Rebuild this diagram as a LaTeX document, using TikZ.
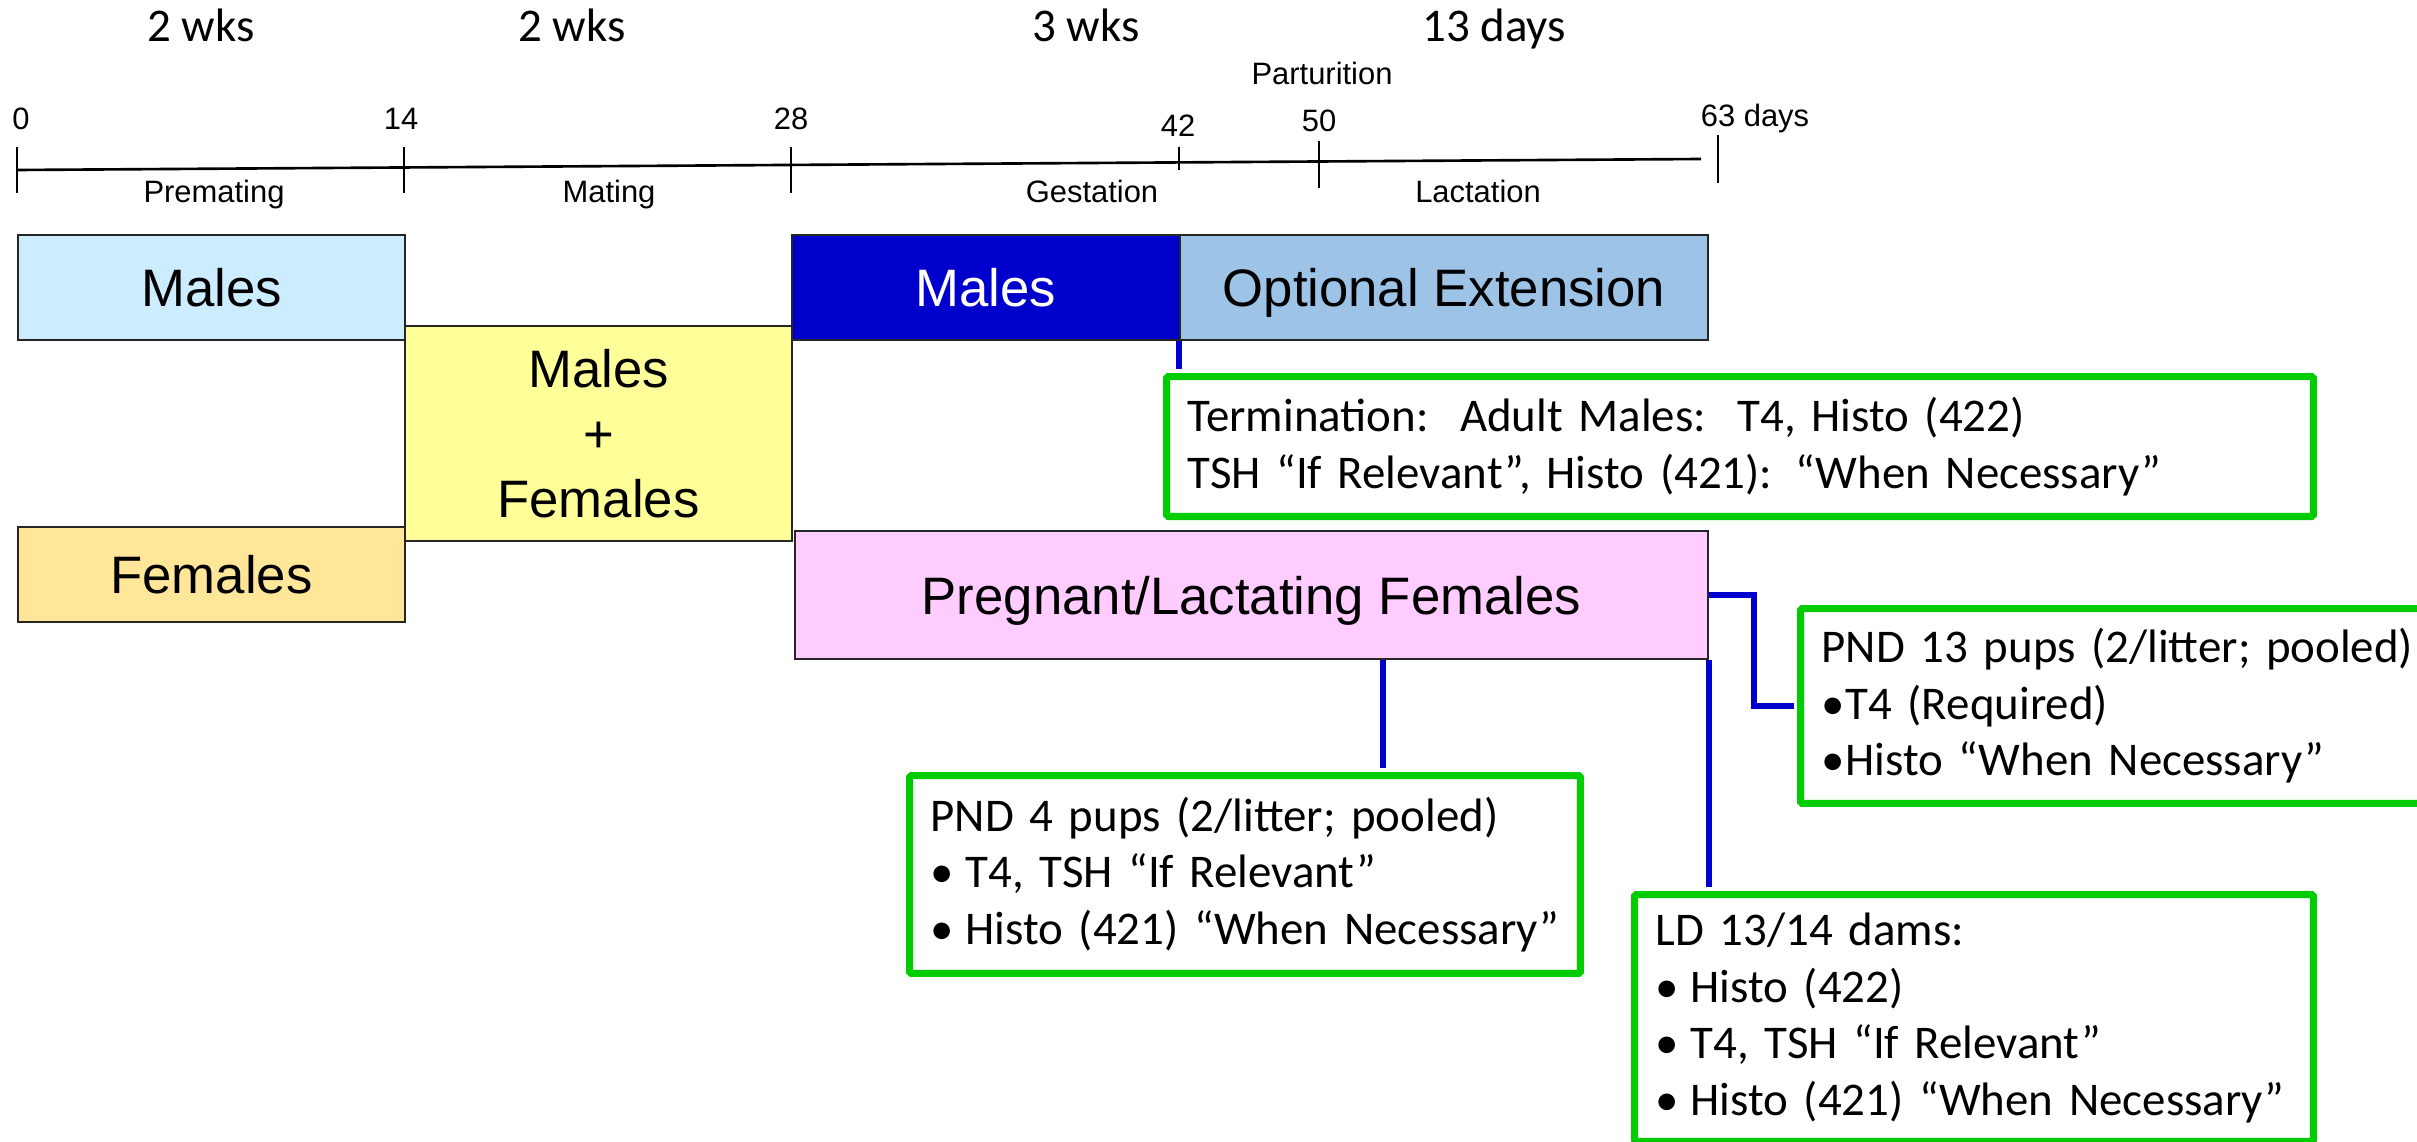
\documentclass[tikz,border=0pt]{standalone}
\usepackage{fontspec}
\setmainfont{Liberation Sans}
\newfontfamily\calibri{Carlito}
\definecolor{malesblue}{HTML}{CCECFF}
\definecolor{pairyellow}{HTML}{FFFF99}
\definecolor{femgold}{HTML}{FFE699}
\definecolor{malesdark}{HTML}{0000CC}
\definecolor{optblue}{HTML}{9DC3E6}
\definecolor{pregpink}{HTML}{FFCCFF}
\definecolor{resgreen}{HTML}{00CC00}
\definecolor{linkblue}{HTML}{0000CC}
\newcommand{\blt}[1][0.7cm]{\makebox[#1][l]{\textbullet}}
\tikzset{
  phase/.style={draw=black!85, line width=1.1pt, anchor=north west, inner sep=0pt,
    font=\fontsize{30}{37}\selectfont, text depth=0pt, align=center},
  result/.style={draw=resgreen, line width=4pt, fill=white, anchor=north west,
    align=left, inner xsep=0.42cm, inner ysep=0pt, rounded corners=1pt,
    font=\calibri\fontsize{26.7}{32.2}\selectfont},
  link/.style={draw=linkblue, line width=3.2pt, shorten >=2pt},
  axislab/.style={font=\fontsize{17.6}{21}\selectfont, anchor=base},
  weeks/.style={font=\calibri\fontsize{26.7}{32}\selectfont, anchor=base}
}
\begin{document}
\begin{tikzpicture}[x=0.02cm, y=-0.02cm]
\useasboundingbox (0,0) rectangle (2417,1142);
\clip (0,0) rectangle (2417,1142);
\fill[white] (0,0) rectangle (2417,1142);

% durations
\node[weeks] (w1) at (201,42) {2 wks};
\node[weeks] (w2) at (572,42) {2 wks};
\node[weeks] (w3) at (1086,42) {3 wks};
\node[weeks] (w4) at (1494,42) {13 days};

% time line
\draw[line width=1.5pt] (17,170) -- (1701,159);
\foreach \x/\a/\b in {17/147/193, 404/147/193, 791/147/193, 1179/147/170, 1319/141/188, 1718/135/183}
  \draw[line width=1pt] (\x,\a) -- (\x,\b);
\node[axislab] (d0) at (21,130) {0};
\node[axislab] (d14) at (401,130) {14};
\node[axislab] (d28) at (791,130) {28};
\node[axislab] (d42) at (1178,137) {42};
\node[axislab] (d50) at (1319,132) {50};
\node[axislab] (d63) at (1755,127) {63 days};
\node[axislab] (part) at (1322,85) {Parturition};
\node[axislab] (premat) at (214,203) {Premating};
\node[axislab] (mat) at (609,203) {Mating};
\node[axislab] (gest) at (1092,203) {Gestation};
\node[axislab] (lact) at (1478,203) {Lactation};

% phases
\node[phase, fill=malesblue, minimum width=7.74cm, minimum height=2.1cm] (premales) at (17,234) {Males};
\node[phase, fill=pairyellow, minimum width=7.74cm, minimum height=4.3cm] (pairs) at (404,325) {Males\\+\\Females};
\node[phase, fill=femgold, minimum width=7.74cm, minimum height=1.9cm] (prefem) at (17,526) {Females};
\node[phase, fill=malesdark, text=white, minimum width=7.76cm, minimum height=2.1cm] (gestmales) at (791,234) {Males};
\node[phase, fill=optblue, minimum width=10.56cm, minimum height=2.1cm] (optx) at (1179,234) {Optional Extension};
\node[phase, fill=pregpink, minimum width=18.26cm, minimum height=2.56cm] (pregf) at (794,530) {Pregnant/Lactating Females};

% results
\node[result, text width=22.1cm, minimum height=2.8cm] (term) at (1163,373)
  {Termination:\ \ Adult Males:\ \ T4, Histo (422)\\TSH “If Relevant”, Histo (421): “When Necessary”};
\node[result, text width=12.36cm, minimum height=3.9cm] (pnd13) at (1797,605)
  {PND 13 pups (2/litter; pooled)\\\blt[0.48cm]T4 (Required)\\\blt[0.48cm]Histo “When Necessary”};
\node[result, text width=12.58cm, minimum height=3.96cm] (pnd4) at (906,772)
  {PND 4 pups (2/litter; pooled)\\\blt T4, TSH “If Relevant”\\\blt Histo (421) “When Necessary”};
\node[result, text width=12.74cm, minimum height=4.94cm] (ld) at (1631,891)
  {LD 13/14 dams:\\\blt Histo (422)\\\blt T4, TSH “If Relevant”\\\blt Histo (421) “When Necessary”};

% connectors
\draw[link] (optx.south west) -- (optx.south west |- term.north);
\draw[link] (pregf.east) -- ++(45,0) |- (pnd13.west);
\draw[link] (1383,0 |- pregf.south) -- (1383,0 |- pnd4.north);
\draw[link] (pregf.south east) -- (pregf.south east |- ld.north);
\end{tikzpicture}
\end{document}
